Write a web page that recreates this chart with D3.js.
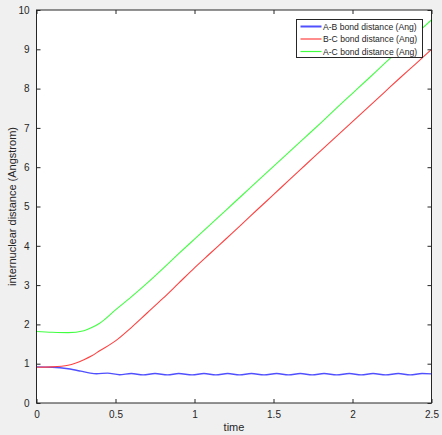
<!DOCTYPE html>
<html>
<head>
<meta charset="utf-8">
<script src="https://cdn.jsdelivr.net/npm/d3@7"></script>
<style>
  body { margin: 0; background: #f0f0f0; }
  svg { display: block; font-family: "Liberation Sans", Arial, sans-serif; }
</style>
</head>
<body>
<svg id="chart" width="442" height="435"></svg>
<script>
// data
var seriesNames = ['A-B bond distance (Ang)', 'B-C bond distance (Ang)', 'A-C bond distance (Ang)'];
var seriesColors = ['#5050ff', '#ff4040', '#40ff40'];

// A-B: decays then oscillates (peaks and troughs)
var abTime = [0, 0.1, 0.2, 0.28, 0.34, 0.38, 0.45, 0.525, 0.6, 0.675, 0.75, 0.83, 0.9, 0.985,
              1.06, 1.135, 1.21, 1.285, 1.36, 1.44, 1.52, 1.595, 1.67, 1.745, 1.82, 1.9,
              1.98, 2.055, 2.13, 2.21, 2.29, 2.365, 2.44, 2.5];
var abDist = [0.92, 0.91, 0.87, 0.81, 0.76, 0.745, 0.76, 0.72, 0.75, 0.715, 0.75, 0.715, 0.75, 0.715,
              0.75, 0.715, 0.75, 0.715, 0.75, 0.715, 0.75, 0.715, 0.75, 0.715, 0.75, 0.715,
              0.75, 0.715, 0.75, 0.715, 0.75, 0.715, 0.75, 0.74];

var lineTime = [0, 0.1, 0.2, 0.3, 0.35, 0.4, 0.5, 0.6, 0.7, 0.8, 0.9, 1.0, 1.1, 1.2, 1.3, 1.4,
                1.5, 1.6, 1.7, 1.8, 1.9, 2.0, 2.1, 2.2, 2.3, 2.4, 2.5];
var bcDist = [0.91, 0.92, 0.96, 1.10, 1.20, 1.33, 1.58, 1.92, 2.29, 2.66, 3.05, 3.44, 3.81, 4.18, 4.55, 4.93,
              5.30, 5.68, 6.05, 6.42, 6.79, 7.16, 7.53, 7.90, 8.27, 8.63, 9.00];
var acDist = [1.82, 1.80, 1.79, 1.84, 1.92, 2.03, 2.37, 2.70, 3.05, 3.42, 3.80, 4.17, 4.54, 4.91, 5.28, 5.65,
              6.02, 6.39, 6.76, 7.13, 7.51, 7.88, 8.25, 8.63, 9.00, 9.38, 9.75];

var xTicks = [0, 0.5, 1, 1.5, 2, 2.5];
var yTicks = [0, 1, 2, 3, 4, 5, 6, 7, 8, 9, 10];

var svg = d3.select('#chart'),
    margin = {left: 36.5, right: 10.5, top: 10, bottom: 32},
    width = 442 - margin.left - margin.right,
    height = 435 - margin.top - margin.bottom,
    axisColor = '#262626';

var x = d3.scaleLinear().domain([0, 2.5]).range([0, width]),
    y = d3.scaleLinear().domain([0, 10]).range([height, 0]);

var g = svg.append('g').attr('transform', 'translate(' + margin.left + ',' + margin.top + ')');

g.append('rect')
    .attr('width', width)
    .attr('height', height)
    .attr('fill', '#fff');

// zip the arrays into points
var zip = function(t, v) { return t.map(function(d, i) { return [d, v[i]]; }); };
var series = [zip(abTime, abDist), zip(lineTime, bcDist), zip(lineTime, acDist)];

var line = d3.line()
    .x(function(d) { return x(d[0]); })
    .y(function(d) { return y(d[1]); })
    .curve(d3.curveMonotoneX);

g.selectAll('.series').data(series).enter()
  .append('path')
    .attr('class', 'series')
    .attr('d', line)
    .attr('fill', 'none')
    .attr('stroke', function(d, i) { return seriesColors[i]; })
    .attr('stroke-width', function(d, i) { return i === 0 ? 1.4 : 1.1; });

// axes, ticks inside, box on
var styleAxis = function(sel) {
    sel.select('.domain').remove();
    sel.selectAll('line').attr('stroke', axisColor);
    sel.selectAll('text').attr('fill', axisColor).style('font-size', '10px');
};

g.append('g')
    .attr('transform', 'translate(0,' + height + ')')
    .call(d3.axisBottom(x).tickValues(xTicks).tickSizeInner(-4).tickPadding(8).tickFormat(d3.format('')))
    .call(styleAxis);
g.append('g')
    .call(d3.axisTop(x).tickValues(xTicks).tickSizeInner(-4).tickFormat(''))
    .call(styleAxis);
g.append('g')
    .call(d3.axisLeft(y).tickValues(yTicks).tickSizeInner(-4).tickPadding(7).tickFormat(d3.format('')))
    .call(styleAxis);
g.append('g')
    .attr('transform', 'translate(' + width + ',0)')
    .call(d3.axisRight(y).tickValues(yTicks).tickSizeInner(-4).tickFormat(''))
    .call(styleAxis);

g.append('rect')
    .attr('width', width)
    .attr('height', height)
    .attr('fill', 'none')
    .attr('stroke', axisColor)
    .attr('stroke-width', 1);

// axis labels
svg.append('text')
    .attr('x', margin.left + width / 2)
    .attr('y', 431)
    .attr('text-anchor', 'middle')
    .attr('fill', axisColor)
    .style('font-size', '11px')
    .text('time');
svg.append('text')
    .attr('transform', 'translate(16,' + (margin.top + height / 2) + ') rotate(-90)')
    .attr('text-anchor', 'middle')
    .attr('fill', axisColor)
    .style('font-size', '11px')
    .text('internuclear distance (Angstrom)');

// legend
var legend = svg.append('g').attr('transform', 'translate(296.5,19.5)');
legend.append('rect')
    .attr('width', 126)
    .attr('height', 38)
    .attr('fill', '#fff')
    .attr('stroke', axisColor);
var items = legend.selectAll('.item').data(seriesNames).enter()
  .append('g')
    .attr('class', 'item')
    .attr('transform', function(d, i) { return 'translate(0,' + (7 + i * 12.5) + ')'; });
items.append('line')
    .attr('x1', 4).attr('x2', 25)
    .attr('stroke', function(d, i) { return seriesColors[i]; })
    .attr('stroke-width', function(d, i) { return i === 0 ? 2 : 1.2; });
items.append('text')
    .attr('x', 26.5)
    .attr('y', 3.3)
    .attr('fill', axisColor)
    .style('font-size', '8.6px')
    .text(function(d) { return d; });
</script>
</body>
</html>
